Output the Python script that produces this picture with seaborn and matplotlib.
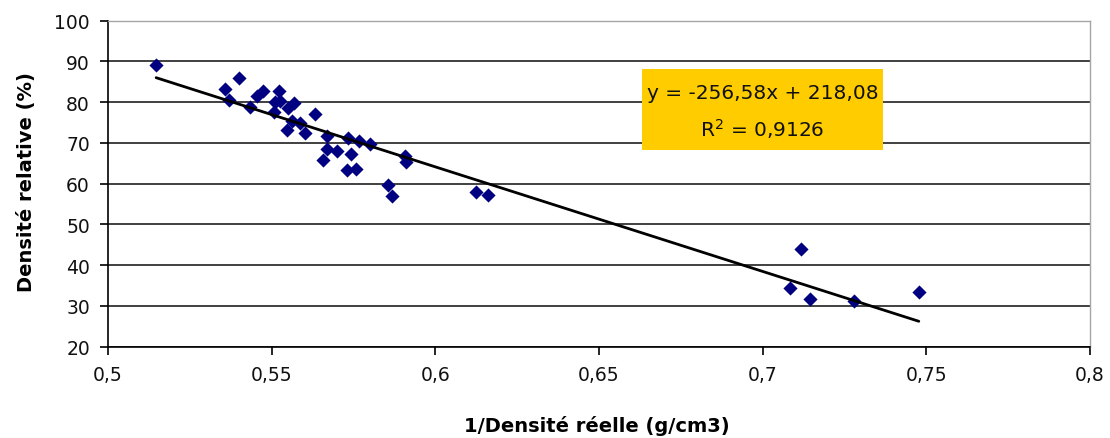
import numpy as np
import pandas as pd
import matplotlib
matplotlib.use("Agg")
import matplotlib.pyplot as plt
from matplotlib.patches import Rectangle
from matplotlib.ticker import FuncFormatter
import seaborn as sns

# 1/Densité réelle (g/cm3) vs Densité relative (%)
inv_density = [0.5147, 0.5357, 0.5400, 0.5370, 0.5434, 0.5454, 0.5475, 0.5523,
               0.5510, 0.5525, 0.5506, 0.5568, 0.5551, 0.5632, 0.5562, 0.5586,
               0.5546, 0.5602, 0.5668, 0.5670, 0.5701, 0.5658, 0.5734, 0.5768,
               0.5800, 0.5741, 0.5729, 0.5757, 0.5907, 0.5910, 0.5856, 0.5867,
               0.6124, 0.6162, 0.7117, 0.7083, 0.7144, 0.7279, 0.7477]
rel_density = [89.1, 83.2, 85.9, 80.5, 78.9, 81.6, 82.8, 82.7,
               80.0, 80.4, 77.6, 79.7, 78.5, 77.1, 75.5, 75.0,
               73.2, 72.5, 71.8, 68.6, 68.1, 65.8, 71.1, 70.6,
               69.7, 67.3, 63.4, 63.6, 66.7, 65.3, 59.7, 57.1,
               58.0, 57.3, 44.0, 34.3, 31.7, 31.3, 33.4]

# linear trendline shown on the chart
slope = -256.58
intercept = 218.08
r_squared = 0.9126

x_ticks = [0.5, 0.55, 0.6, 0.65, 0.7, 0.75, 0.8]
y_ticks = [20, 30, 40, 50, 60, 70, 80, 90, 100]

df = pd.DataFrame({"x": inv_density, "y": rel_density})

sns.set_theme(style="white")
plt.rcParams["font.family"] = ["DejaVu Sans"]

fig = plt.figure(figsize=(11.1, 4.39), dpi=100)
ax = fig.add_axes([108 / 1110, 1 - 347.7 / 439, 982 / 1110, 326 / 439])

sns.scatterplot(data=df, x="x", y="y", marker="D", s=52, color="#000080",
                edgecolor="#000080", linewidth=0, ax=ax, zorder=3)

x_fit = np.array([df["x"].min(), df["x"].max()])
ax.plot(x_fit, slope * x_fit + intercept, color="black", lw=2.0, zorder=4)

ax.set_xlim(x_ticks[0], x_ticks[-1])
ax.set_ylim(y_ticks[0], y_ticks[-1])
ax.set_xticks(x_ticks)
ax.set_yticks(y_ticks)
ax.xaxis.set_major_formatter(FuncFormatter(lambda v, p: f"{v:g}".replace(".", ",")))

ax.tick_params(axis="both", direction="out", length=6, width=1.2, color="black",
               labelsize=13.5, labelcolor="#111111", pad=7,
               bottom=True, left=True)

# horizontal gridlines, the top one is the light plot-area border
ax.yaxis.grid(True, color="#404040", lw=1.4)
ax.get_ygridlines()[-1].set_visible(False)
ax.set_axisbelow(True)

for side in ["left", "bottom"]:
    ax.spines[side].set_color("black")
    ax.spines[side].set_linewidth(1.2)
for side in ["top", "right"]:
    ax.spines[side].set_color("#a6a6a6")
    ax.spines[side].set_linewidth(1.0)

ax.set_xlabel("1/Densité réelle (g/cm3)", fontsize=14, fontweight="bold", color="black")
ax.set_ylabel("Densité relative (%)", fontsize=14, fontweight="bold", color="black")
ax.xaxis.set_label_coords(0.498, -0.21)
ax.yaxis.set_label_coords(-0.073, 0.509)

# equation box
ax.add_patch(Rectangle((0.5438, 0.6034), 0.2454, 0.2484, transform=ax.transAxes,
                       facecolor="#FFCC00", edgecolor="none", zorder=5))
ax.text(0.6665, 0.762, f"y = {slope:.2f}x + {intercept:.2f}".replace(".", ","),
        transform=ax.transAxes, ha="center", va="baseline", fontsize=14.5,
        color="#111111", zorder=6)
ax.text(0.6665, 0.6463, r"R$^2$ = " + f"{r_squared:.4f}".replace(".", ","),
        transform=ax.transAxes, ha="center", va="baseline", fontsize=14.5,
        color="#111111", zorder=6)

fig.savefig("out.png", dpi=100, facecolor="white")
